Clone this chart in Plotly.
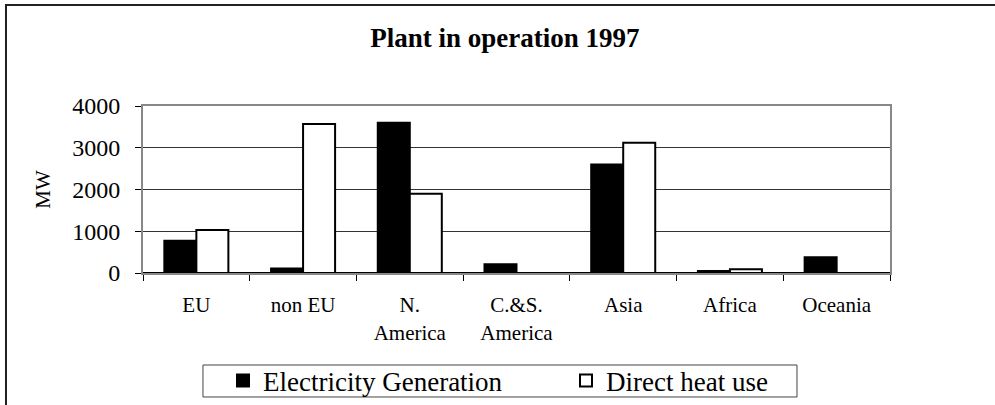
import plotly.graph_objects as go

regions = ["EU", "non EU", "N.<br>America", "C.&S.<br>America", "Asia", "Africa", "Oceania"]
electricity = [770, 110, 3600, 210, 2600, 50, 380]
direct_heat = [1030, 3570, 1900, 0, 3120, 90, 0]

FONT = "Liberation Serif"

fig = go.Figure()
fig.add_trace(go.Bar(x=regions, y=electricity, name="Electricity Generation",
                     marker=dict(color="black", line=dict(color="black", width=2))))
fig.add_trace(go.Bar(x=regions, y=direct_heat, name="Direct heat use",
                     marker=dict(color="white", line=dict(color="black", width=2))))

fig.update_layout(
    width=995, height=405,
    margin=dict(l=143, r=105, t=106, b=132, autoexpand=False),
    paper_bgcolor="white", plot_bgcolor="white",
    font=dict(family=FONT, color="black"),
    barmode="group", bargap=0.4, bargroupgap=0,
    title=dict(text="<b>Plant in operation 1997</b>", x=0.5075, y=0.908,
               xref="container", yref="container", xanchor="center", yanchor="middle",
               font=dict(size=27, family=FONT, color="black")),
    legend=dict(orientation="h", xref="container", yref="container",
                x=0.2241, y=0.0593, xanchor="left", yanchor="middle",
                bgcolor="rgba(0,0,0,0)", borderwidth=0,
                font=dict(size=27, family=FONT, color="black"),
                entrywidth=298, entrywidthmode="pixels", itemwidth=30,
                traceorder="normal"),
    showlegend=True,
)

fig.update_xaxes(
    showline=True, linecolor="#888", linewidth=2, mirror=True,
    ticks="outside", tickson="boundaries", ticklen=6, tickcolor="black",
    tickfont=dict(size=21, family=FONT), ticklabelstandoff=12,
    showgrid=False,
)
fig.update_yaxes(
    range=[0, 4000], dtick=1000,
    showline=True, linecolor="#888", linewidth=2, mirror=True,
    showgrid=True, gridcolor="#333", gridwidth=1,
    zeroline=True, zerolinecolor="black", zerolinewidth=2,
    ticks="outside", ticklen=6, tickcolor="black",
    tickfont=dict(size=24, family=FONT), ticklabelstandoff=10,
    title=dict(text="MW", font=dict(size=21, family=FONT), standoff=16),
)

# outer chart frame (runs off the right and bottom of the picture)
fig.add_shape(type="rect", xref="paper", yref="paper",
              x0=-0.1834, y0=-0.95, x1=1.2, y1=1.605,
              line=dict(color="#222", width=2), layer="below")
# legend box
fig.add_shape(type="rect", xref="paper", yref="paper",
              x0=0.0803, y0=-0.7425, x1=0.8755, y1=-0.5509,
              line=dict(color="#444", width=1), layer="below")

# drop the browser's default 8px page margin so the figure sits at the window corner
fig.write_html("out.html", config={"displayModeBar": False},
               post_script="document.body.style.margin='0';")
